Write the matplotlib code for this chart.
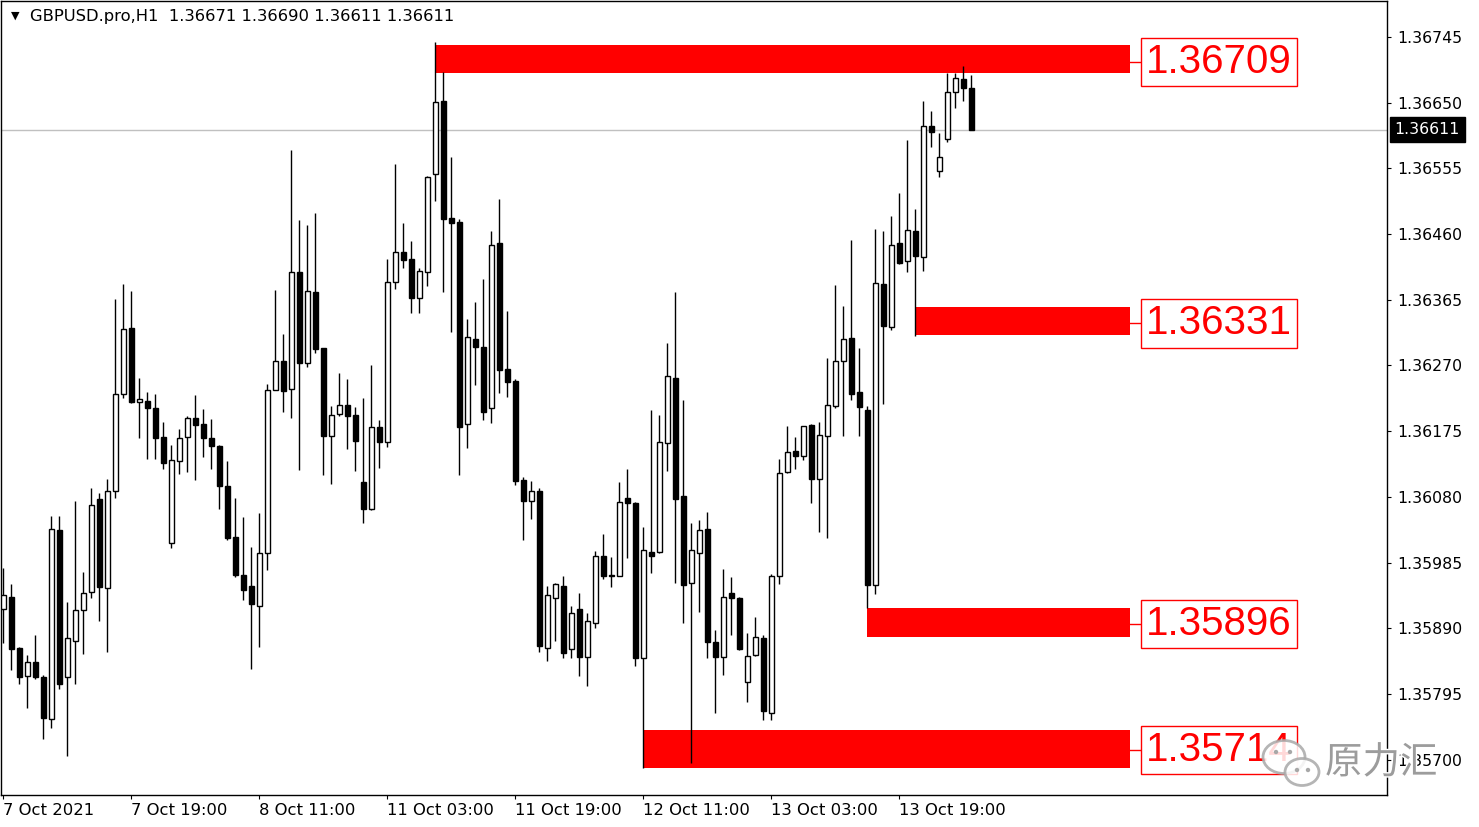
import matplotlib
matplotlib.use("Agg")
import matplotlib.pyplot as plt
import matplotlib.patches as mpatches
import matplotlib.transforms as mtransforms
import matplotlib.patheffects as pe
import numpy as np

# GBPUSD H1 candles, 7 Oct 03:00 .. 14 Oct 04:00
opens = [1.35918, 1.35935, 1.35862, 1.35821, 1.35841, 1.35820, 1.35759, 1.36032, 1.35820, 1.35872,
         1.35916, 1.35942, 1.36077, 1.35948, 1.36088, 1.36229, 1.36324, 1.36217, 1.36219, 1.36209,
         1.36167, 1.36013, 1.36132, 1.36167, 1.36194, 1.36185, 1.36165, 1.36154, 1.36096, 1.36022,
         1.35967, 1.35951, 1.35922, 1.35999, 1.36235, 1.36276, 1.36236, 1.36405, 1.36274, 1.36376,
         1.36295, 1.36168, 1.36200, 1.36213, 1.36198, 1.36102, 1.36062, 1.36181, 1.36159, 1.36391,
         1.36434, 1.36424, 1.36368, 1.36405, 1.36547, 1.36652, 1.36483, 1.36477, 1.36185, 1.36308,
         1.36297, 1.36209, 1.36447, 1.36265, 1.36248, 1.36104, 1.36074, 1.36088, 1.35862, 1.35934,
         1.35951, 1.35860, 1.35918, 1.35849, 1.35898, 1.35995, 1.35966, 1.35966, 1.36078, 1.36071,
         1.35847, 1.36000, 1.36000, 1.36158, 1.36252, 1.36081, 1.35956, 1.35999, 1.36034, 1.35870,
         1.35849, 1.35941, 1.35934, 1.35812, 1.35851, 1.35876, 1.35768, 1.35966, 1.36116, 1.36146,
         1.36139, 1.36184, 1.36106, 1.36168, 1.36211, 1.36276, 1.36310, 1.36232, 1.36206, 1.35953,
         1.36388, 1.36326, 1.36447, 1.36421, 1.36464, 1.36427, 1.36616, 1.36551, 1.36597, 1.36665,
         1.36684, 1.36671]
highs = [1.35977, 1.35954, 1.35863, 1.35851, 1.35880, 1.35822, 1.36052, 1.36052, 1.35928, 1.36074,
         1.35971, 1.36093, 1.36086, 1.36106, 1.36366, 1.36388, 1.36378, 1.36252, 1.36232, 1.36229,
         1.36188, 1.36155, 1.36178, 1.36197, 1.36227, 1.36207, 1.36193, 1.36155, 1.36132, 1.36078,
         1.36051, 1.36008, 1.36057, 1.36243, 1.36379, 1.36316, 1.36582, 1.36480, 1.36473, 1.36491,
         1.36296, 1.36211, 1.36259, 1.36250, 1.36210, 1.36223, 1.36271, 1.36191, 1.36424, 1.36561,
         1.36476, 1.36450, 1.36411, 1.36544, 1.36738, 1.36695, 1.36571, 1.36482, 1.36337, 1.36362,
         1.36395, 1.36464, 1.36511, 1.36349, 1.36250, 1.36109, 1.36103, 1.36093, 1.35951, 1.35955,
         1.35966, 1.35922, 1.35941, 1.35912, 1.36002, 1.36026, 1.35993, 1.36102, 1.36120, 1.36072,
         1.36036, 1.36206, 1.36198, 1.36303, 1.36376, 1.36220, 1.36042, 1.36047, 1.36058, 1.35888,
         1.35976, 1.35964, 1.35935, 1.35883, 1.35906, 1.35880, 1.35968, 1.36135, 1.36182, 1.36167,
         1.36183, 1.36185, 1.36188, 1.36281, 1.36386, 1.36356, 1.36451, 1.36295, 1.36211, 1.36467,
         1.36464, 1.36486, 1.36519, 1.36596, 1.36496, 1.36652, 1.36638, 1.36606, 1.36693, 1.36693,
         1.36703, 1.36690]
lows = [1.35869, 1.35830, 1.35809, 1.35775, 1.35817, 1.35730, 1.35746, 1.35802, 1.35705, 1.35809,
        1.35853, 1.35934, 1.35901, 1.35856, 1.36078, 1.36223, 1.36216, 1.36165, 1.36135, 1.36135,
        1.36120, 1.36006, 1.36113, 1.36116, 1.36104, 1.36138, 1.36120, 1.36062, 1.36018, 1.35964,
        1.35931, 1.35831, 1.35863, 1.35974, 1.36234, 1.36203, 1.36194, 1.36119, 1.36268, 1.36288,
        1.36112, 1.36099, 1.36197, 1.36149, 1.36117, 1.36042, 1.36061, 1.36122, 1.36152, 1.36381,
        1.36411, 1.36346, 1.36346, 1.36385, 1.36508, 1.36376, 1.36318, 1.36112, 1.36151, 1.36242,
        1.36191, 1.36187, 1.36230, 1.36224, 1.36097, 1.36018, 1.36048, 1.35856, 1.35843, 1.35872,
        1.35847, 1.35847, 1.35821, 1.35807, 1.35890, 1.35961, 1.35950, 1.35965, 1.35992, 1.35835,
        1.35688, 1.35970, 1.35999, 1.36117, 1.35956, 1.35898, 1.35695, 1.35914, 1.35847, 1.35768,
        1.35822, 1.35880, 1.35859, 1.35783, 1.35850, 1.35757, 1.35757, 1.35954, 1.36115, 1.36120,
        1.36133, 1.36071, 1.36029, 1.36021, 1.36209, 1.36168, 1.36220, 1.36168, 1.35919, 1.35940,
        1.36214, 1.36321, 1.36417, 1.36405, 1.36313, 1.36407, 1.36586, 1.36543, 1.36593, 1.36642,
        1.36652, 1.36611]
closes = [1.35938, 1.35860, 1.35820, 1.35841, 1.35820, 1.35760, 1.36034, 1.35809, 1.35876, 1.35916,
          1.35941, 1.36068, 1.35950, 1.36088, 1.36229, 1.36323, 1.36217, 1.36222, 1.36209, 1.36165,
          1.36129, 1.36133, 1.36165, 1.36194, 1.36184, 1.36165, 1.36154, 1.36096, 1.36021, 1.35967,
          1.35945, 1.35925, 1.35999, 1.36235, 1.36276, 1.36233, 1.36405, 1.36274, 1.36378, 1.36294,
          1.36168, 1.36198, 1.36213, 1.36197, 1.36161, 1.36062, 1.36181, 1.36159, 1.36391, 1.36434,
          1.36423, 1.36368, 1.36407, 1.36543, 1.36651, 1.36482, 1.36476, 1.36181, 1.36311, 1.36297,
          1.36203, 1.36444, 1.36263, 1.36246, 1.36103, 1.36074, 1.36088, 1.35864, 1.35938, 1.35954,
          1.35854, 1.35912, 1.35849, 1.35901, 1.35995, 1.35966, 1.35966, 1.36073, 1.36071, 1.35847,
          1.36003, 1.35995, 1.36159, 1.36255, 1.36077, 1.35953, 1.36003, 1.36032, 1.35870, 1.35849,
          1.35935, 1.35934, 1.35860, 1.35850, 1.35877, 1.35770, 1.35966, 1.36115, 1.36145, 1.36139,
          1.36182, 1.36106, 1.36170, 1.36213, 1.36276, 1.36308, 1.36229, 1.36210, 1.35953, 1.36389,
          1.36327, 1.36444, 1.36418, 1.36466, 1.36428, 1.36616, 1.36608, 1.36571, 1.36665, 1.36686,
          1.36671, 1.36611]

tick_pos = [0, 16, 32, 48, 64, 80, 96, 112]
tick_labels = ["7 Oct 2021", "7 Oct 19:00", "8 Oct 11:00", "11 Oct 03:00",
               "11 Oct 19:00", "12 Oct 11:00", "13 Oct 03:00", "13 Oct 19:00"]
price_ticks = [1.36745, 1.36650, 1.36555, 1.36460, 1.36365, 1.36270,
               1.36175, 1.36080, 1.35985, 1.35890, 1.35795, 1.35700]

# support / resistance zones
levels = [1.36709, 1.36331, 1.35896, 1.35714]
zone_start = [54, 114, 108, 80]
zone_top = [1.36733, 1.36355, 1.35919, 1.35743]
zone_bottom = [1.36693, 1.36314, 1.35877, 1.35688]

last_price = 1.36611
title = "GBPUSD.pro,H1  1.36671 1.36690 1.36611 1.36611"

plt.rcParams['font.family'] = ['DejaVu Sans']
W, H = 1479, 827
fig = plt.figure(figsize=(W/100, H/100), dpi=100)
ax = fig.add_axes([1/W, (H-795)/H, 1386/W, 794/H])

o = np.array(opens); h = np.array(highs); l = np.array(lows); c = np.array(closes)
x = np.arange(len(o))
bull = c >= o
bear = ~bull

ax.vlines(x, l, h, color='black', lw=1, zorder=3)
hb = np.maximum(c[bull] - o[bull], 0.000004)
ax.bar(x[bull], hb, bottom=o[bull], width=0.62, facecolor='white',
       edgecolor='black', lw=1, zorder=4)
ax.bar(x[bear], c[bear] - o[bear], bottom=o[bear], width=0.62, facecolor='black',
       edgecolor='black', lw=1, zorder=4)

zone_end = 140.84
for lev, s, zt, zb in zip(levels, zone_start, zone_top, zone_bottom):
    ax.add_patch(mpatches.Rectangle((s, zb), zone_end - s, zt - zb,
                                    facecolor='#ff0000', edgecolor='none', zorder=2))
    ax.plot([zone_end, 142.4], [lev, lev], color='#ff0000', lw=1, zorder=2)
    ax.text(142.85, lev, f"{lev:.5f}", family='Liberation Sans', fontsize=29,
            color='#ff0000', ha='left', va='center', zorder=5,
            bbox=dict(boxstyle='square,pad=0.13', fc='white', ec='#ff0000', lw=1))

ax.axhline(last_price, color='#c0c0c0', lw=1, zorder=1)
trans = mtransforms.blended_transform_factory(ax.transAxes, ax.transData)
ax.text(1.0055, last_price, f"{last_price:.5f}", transform=trans, color='white',
        fontsize=11.3, ha='left', va='center',
        bbox=dict(boxstyle='square,pad=0.3', fc='black', ec='black'))

ax.set_xlim(-0.29, 172.96)
ax.set_ylim(1.356489, 1.367971)
ax.yaxis.tick_right()
ax.set_yticks(price_ticks)
ax.set_yticklabels([f"{p:.5f}" for p in price_ticks])
ax.set_xticks(tick_pos)
ax.set_xticklabels(tick_labels)
for t in ax.get_xticklabels():
    t.set_ha('left')
ax.tick_params(axis='y', direction='out', length=3, pad=4.5, labelsize=11.3)
ax.tick_params(axis='x', direction='out', length=3, pad=3, labelsize=11.8)
for sp in ax.spines.values():
    sp.set_color('black')
    sp.set_linewidth(1)

fig.text(11/W, 1 - 16/H, "\u25BC", fontsize=8, va='center', ha='left')
fig.text(30/W, 1 - 17/H, title, fontsize=11.8, va='center', ha='left')

# watermark
ident = mtransforms.IdentityTransform()
for cx, cy, ww, hh in [(1284, 757, 42, 33), (1302, 772, 34, 27)]:
    fig.add_artist(mpatches.Ellipse((cx, H - cy), ww, hh, transform=ident,
                                    facecolor='white', alpha=0.85,
                                    edgecolor='#a8a8a8', lw=2, zorder=10))
for dx, dy in [(1276, 752), (1290, 752), (1297, 770), (1308, 770)]:
    fig.add_artist(mpatches.Circle((dx, H - dy), 2.2, transform=ident,
                                   facecolor='#a8a8a8', edgecolor='none', zorder=11))
fig.text(1325/W, 1 - 763/H, "原力汇", family=['Noto Sans CJK SC', 'DejaVu Sans'],
         fontsize=27, color='#9c9c9c', va='center', ha='left', zorder=12,
         path_effects=[pe.withStroke(linewidth=2, foreground='white')])

fig.savefig('out.png', dpi=100)
